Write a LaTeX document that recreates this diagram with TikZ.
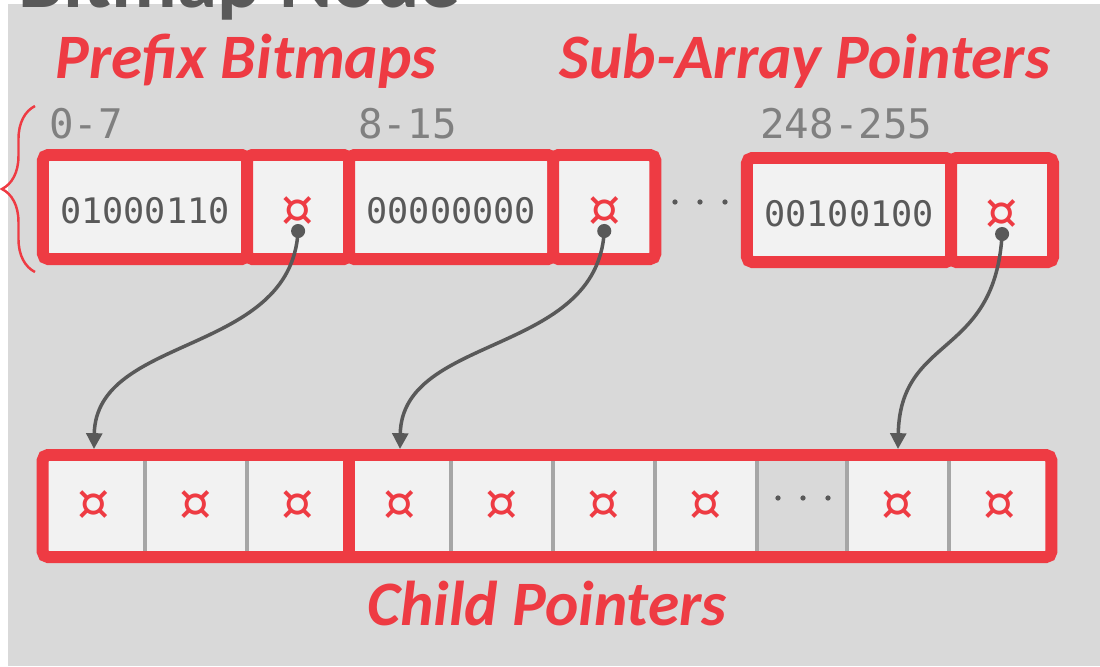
\documentclass[tikz,border=0pt]{standalone}
\usepackage{fontspec}
\setmainfont{Carlito}
\setmonofont{DejaVu Sans Mono}
\newfontfamily\symbfont{DejaVu Sans}
\usetikzlibrary{decorations.pathreplacing,calligraphy,positioning,arrows.meta}

\definecolor{slidegray}{HTML}{D9D9D9}
\definecolor{cellfill}{HTML}{F2F2F2}
\definecolor{hotred}{HTML}{EE3B43}
\definecolor{inkgray}{HTML}{595959}
\definecolor{rangegray}{HTML}{808080}
\definecolor{sepgray}{HTML}{A6A6A6}

\begin{document}
\begin{tikzpicture}[x=0.01cm,y=-0.01cm,
    cell/.style={draw=hotred,fill=cellfill,line width=3.4pt,rounded corners=1.5pt,
      inner sep=0pt,outer sep=0pt,minimum height=1.04cm},
    bits/.style={cell,minimum width=2.04cm,text=inkgray,text height=9.6pt,text depth=0pt,
      font=\ttfamily\fontsize{10}{12}\selectfont},
    ptr/.style={cell,minimum width=1.02cm,text=hotred,text height=11pt,text depth=0pt,
      font=\symbfont\fontsize{14.5}{16}\selectfont},
    kid/.style={fill=cellfill,inner sep=0pt,outer sep=0pt,minimum width=1.02cm,
      minimum height=1.02cm,text=hotred,font=\symbfont\fontsize{14.5}{16}\selectfont},
    heading/.style={anchor=base,text=hotred,
      font=\bfseries\itshape\fontsize{18}{22}\selectfont},
    rangelabel/.style={anchor=base west,text=rangegray,
      font=\ttfamily\fontsize{11.6}{13}\selectfont},
    link/.style={draw=inkgray,line width=1pt,-{Triangle[length=4.5pt,width=4.5pt]}},
  ]
  \def\cur{¤}
  \useasboundingbox (0,0) rectangle (1100,666);
  \fill[slidegray] (8,4) rectangle (1100,666);
  \node[anchor=base west,text=inkgray,font=\bfseries\fontsize{23}{26}\selectfont]
    (title) at (6,7) {Bitmap Node};

  % prefix bitmaps + sub-array pointers
  \node[bits] (bm1) at (145,207) {01000110};
  \node[ptr,right=0pt of bm1] (ptr1) {\cur};
  \node[bits,right=0pt of ptr1] (bm2) {00000000};
  \node[ptr,right=0pt of bm2] (ptr2) {\cur};
  \node[bits] (bm3) at (849,210) {00100100};
  \node[ptr,right=0pt of bm3] (ptr3) {\cur};
  \foreach \x in {675,700,725}
    \fill[inkgray] (\x,202) circle (0.75pt);

  \node[rangelabel] (r1) at (37,138) {0-7};
  \node[rangelabel] (r2) at (346,138) {8-15};
  \node[rangelabel] (r3) at (748,138) {248-255};

  \node[heading] (hbits) at (246,78) {Prefix Bitmaps};
  \node[heading] (hptrs) at (805,78) {Sub-Array Pointers};

  \draw[decorate,line width=0.7pt,draw=hotred,
    decoration={brace,amplitude=0.33cm}] (35,272) -- (35,106);

  % child pointers
  \foreach \i/\x in {1/94,2/196,3/298,4/400,5/502,6/604,7/706,9/898,10/1000}
    \node[kid] (c\i) at (\x,506) {\cur};
  \node[kid,fill=slidegray,minimum width=0.9cm] (c8) at (802,506) {};
  \foreach \x in {778,803,828}
    \fill[inkgray] (\x,498) circle (0.75pt);
  \foreach \i in {1,2,4,5,6,7,8,9}
    \draw[sepgray,line width=0.9pt] (c\i.north east) -- (c\i.south east);
  \draw[hotred,line width=3.4pt] (c3.north east) -- (c3.south east);
  \node[draw=hotred,line width=3.4pt,rounded corners=1.5pt,inner sep=0pt,
    minimum width=10.08cm,minimum height=1.02cm] (kids) at (547,506) {};
  \node[heading] (hkids) at (547,625) {Child Pointers};

  % links
  \foreach \p/\c in {1/1,2/4,3/9} {
    \path (ptr\p.center) ++(0,24) coordinate (d\p);
    \draw[link] (d\p) .. controls +(-7,125) and +(2,-115) .. ([yshift=1.7pt]c\c.north);
    \fill[inkgray] (d\p) circle (2pt);
  }
\end{tikzpicture}
\end{document}
